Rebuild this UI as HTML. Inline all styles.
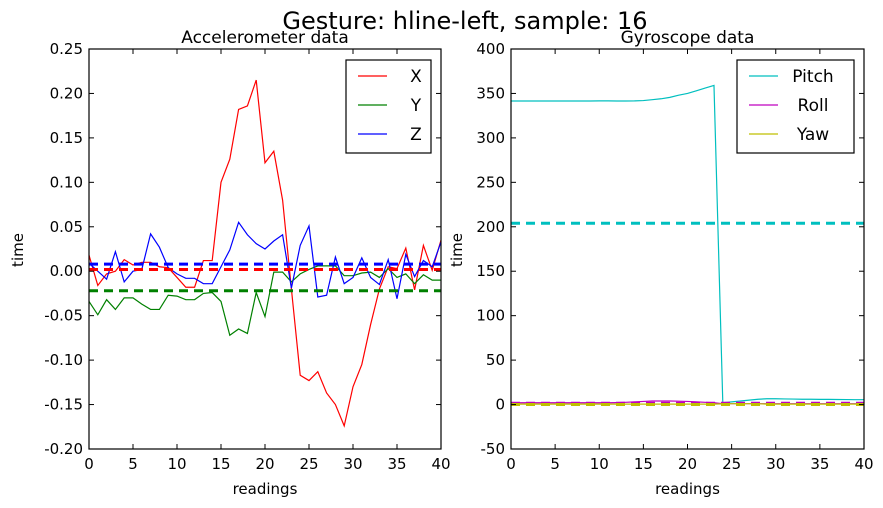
<!DOCTYPE html>
<html><head><meta charset="utf-8"><style>
body{margin:0;background:#fff;}
svg{display:block;font-family:"DejaVu Sans","Liberation Sans",sans-serif;}
</style></head><body>
<svg id="fig" width="883" height="508"></svg>
<script>
const xTicks=[0,5,10,15,20,25,30,35,40];
const accTicks=[0.25,0.20,0.15,0.10,0.05,0.00,-0.05,-0.10,-0.15,-0.20];
const gyroTicks=[400,350,300,250,200,150,100,50,0,-50];
const accX=[0.018,-0.016,-0.003,0,0.013,0.007,0.01,0.01,0.005,0.004,-0.007,-0.018,-0.018,0.012,0.012,0.10,0.126,0.182,0.186,0.215,0.122,0.135,0.08,-0.02,-0.117,-0.123,-0.113,-0.137,-0.15,-0.174,-0.13,-0.105,-0.06,-0.02,0.005,0.003,0.026,-0.021,0.029,0.001,0.035];
const accY=[-0.034,-0.049,-0.032,-0.043,-0.03,-0.03,-0.037,-0.043,-0.043,-0.027,-0.028,-0.032,-0.032,-0.025,-0.024,-0.034,-0.072,-0.065,-0.07,-0.024,-0.051,-0.001,-0.001,-0.012,-0.003,0.002,0.006,0.006,0.006,-0.005,-0.005,-0.002,-0.001,-0.007,0.003,-0.007,-0.003,-0.014,-0.004,-0.01,-0.01];
const accZ=[0.009,0,-0.009,0.022,-0.012,0,0.002,0.042,0.027,0.004,-0.003,-0.008,-0.008,-0.014,-0.014,0.005,0.024,0.055,0.041,0.031,0.025,0.034,0.041,-0.019,0.029,0.051,-0.029,-0.027,0.016,-0.014,-0.007,0.015,-0.007,-0.015,0.013,-0.031,0.019,-0.006,0.012,0.005,0.033];
const accMeans=[0.002,-0.022,0.008];
const pitch=[341.5,341.5,341.5,341.5,341.5,341.5,341.5,341.5,341.5,341.5,341.6,341.6,341.5,341.5,341.6,342,343,344,345.6,348,350,353,356,359,2,3,4,5,6,6.5,6.5,6.3,6.2,6,6,5.8,5.8,5.7,5.6,5.5,5.5];
const roll=[2,2,2,2,2,2,2,2,2,2,2,2,2.2,2.5,3,3.5,4,4,4,3.8,3.5,3,2.5,2,1,1,1,1,1,1,1,1,1,1,1,1,1,1,1,1,1];
const yaw=[0.5,0.5,0.5,0.5,0.5,0.5,0.5,0.5,0.5,0.5,0.5,0.5,0.5,0.5,0.5,0.5,0.5,0.5,0.5,0.5,0.5,0.5,0.5,0.5,0.8,1,1,1,1,0.5,0.5,0.5,0.5,0.5,0.5,0.5,0.5,0.5,0.5,0.5,0.5];
const gyroMeans=[204,1.5,0];

const NS="http://www.w3.org/2000/svg";
const svg=document.getElementById('fig');
function mk(tag,attrs,parent){const e=document.createElementNS(NS,tag);for(const k in attrs)e.setAttribute(k,attrs[k]);(parent||svg).appendChild(e);return e;}
function txt(s,x,y,size,anchor,parent){const t=mk('text',{x:x,y:y,'font-size':size,'text-anchor':anchor||'middle',fill:'#000'},parent);t.textContent=s;return t;}

const title=txt('Gesture: hline-left, sample: 16',465,29,24);



function panel(opt){
  const g=mk('g',{});
  
  
  const L=opt.L,R=opt.R,T=49,B=449;
  const sx=v=>L+(v-0)/40*(R-L);
  const sy=v=>T+(opt.ymax-v)/(opt.ymax-opt.ymin)*(B-T);
  const ttl=txt(opt.title,(L+R)/2,43,17,'middle',g);
  
  
  opt.series.forEach((s,i)=>{
    const pts=s.data.map((v,j)=>sx(j).toFixed(2)+','+sy(v).toFixed(2)).join(' ');
    const pl=mk('polyline',{points:pts,fill:'none',stroke:s.color,'stroke-width':1.2},g);
    
    
  });
  opt.series.forEach((s,i)=>{
    const m=opt.means[i];
    const ln=mk('line',{x1:L,x2:R,y1:sy(m),y2:sy(m),stroke:s.color,'stroke-width':3,'stroke-dasharray':'9,6'},g);
    
    
  });
  const fr=mk('rect',{x:L,y:T,width:R-L,height:B-T,fill:'none',stroke:'#000','stroke-width':1.2},g);
  
  
  xTicks.forEach(v=>{
    const x=sx(v);
    mk('line',{x1:x,x2:x,y1:B,y2:B-5,stroke:'#000'},g);
    mk('line',{x1:x,x2:x,y1:T,y2:T+5,stroke:'#000'},g);
    const t=txt(String(v),x,469,15,'middle',g);
    
    
  });
  opt.yticks.forEach(v=>{
    const y=sy(v);
    mk('line',{x1:L,x2:L+5,y1:y,y2:y,stroke:'#000'},g);
    mk('line',{x1:R,x2:R-5,y1:y,y2:y,stroke:'#000'},g);
    const t=txt(opt.fmt(v),L-6,y+5,15,'end',g);
    
    
  });
  const xl=txt('readings',(L+R)/2,494,15,'middle',g);
  
  
  const yl=txt('time',0,0,15,'middle',g);
  yl.setAttribute('transform','translate('+(opt.ylx)+',250) rotate(-90)');
  
  
  const lg=mk('g',{},g);
  
  
  mk('rect',{x:opt.lgx,y:60,width:opt.lgw,height:93,fill:'#fff',stroke:'#000','stroke-width':1.2},lg);
  opt.series.forEach((s,i)=>{
    const y=76+i*29;
    const e=mk('g',{},lg);
    
    
    mk('line',{x1:opt.lgx+12,x2:opt.lgx+41,y1:y,y2:y,stroke:s.color,'stroke-width':1.2},e);
    txt(s.label,opt.lgtx,y+6,17,'middle',e);
  });
}
panel({name:'accelerometer-panel',title:'Accelerometer data',L:89,R:441,ymin:-0.2,ymax:0.25,yticks:accTicks,fmt:v=>v.toFixed(2),ylx:23,
  series:[{label:'X',color:'#ff0000',data:accX},{label:'Y',color:'#008000',data:accY},{label:'Z',color:'#0000ff',data:accZ}],
  means:accMeans,lgx:346,lgw:85,lgtx:416});
panel({name:'gyroscope-panel',title:'Gyroscope data',L:511,R:864,ymin:-50,ymax:400,yticks:gyroTicks,fmt:v=>String(v),ylx:462,
  series:[{label:'Pitch',color:'#00bfbf',data:pitch},{label:'Roll',color:'#bf00bf',data:roll},{label:'Yaw',color:'#bfbf00',data:yaw}],
  means:gyroMeans,lgx:737,lgw:117,lgtx:813});
</script>
</body></html>
